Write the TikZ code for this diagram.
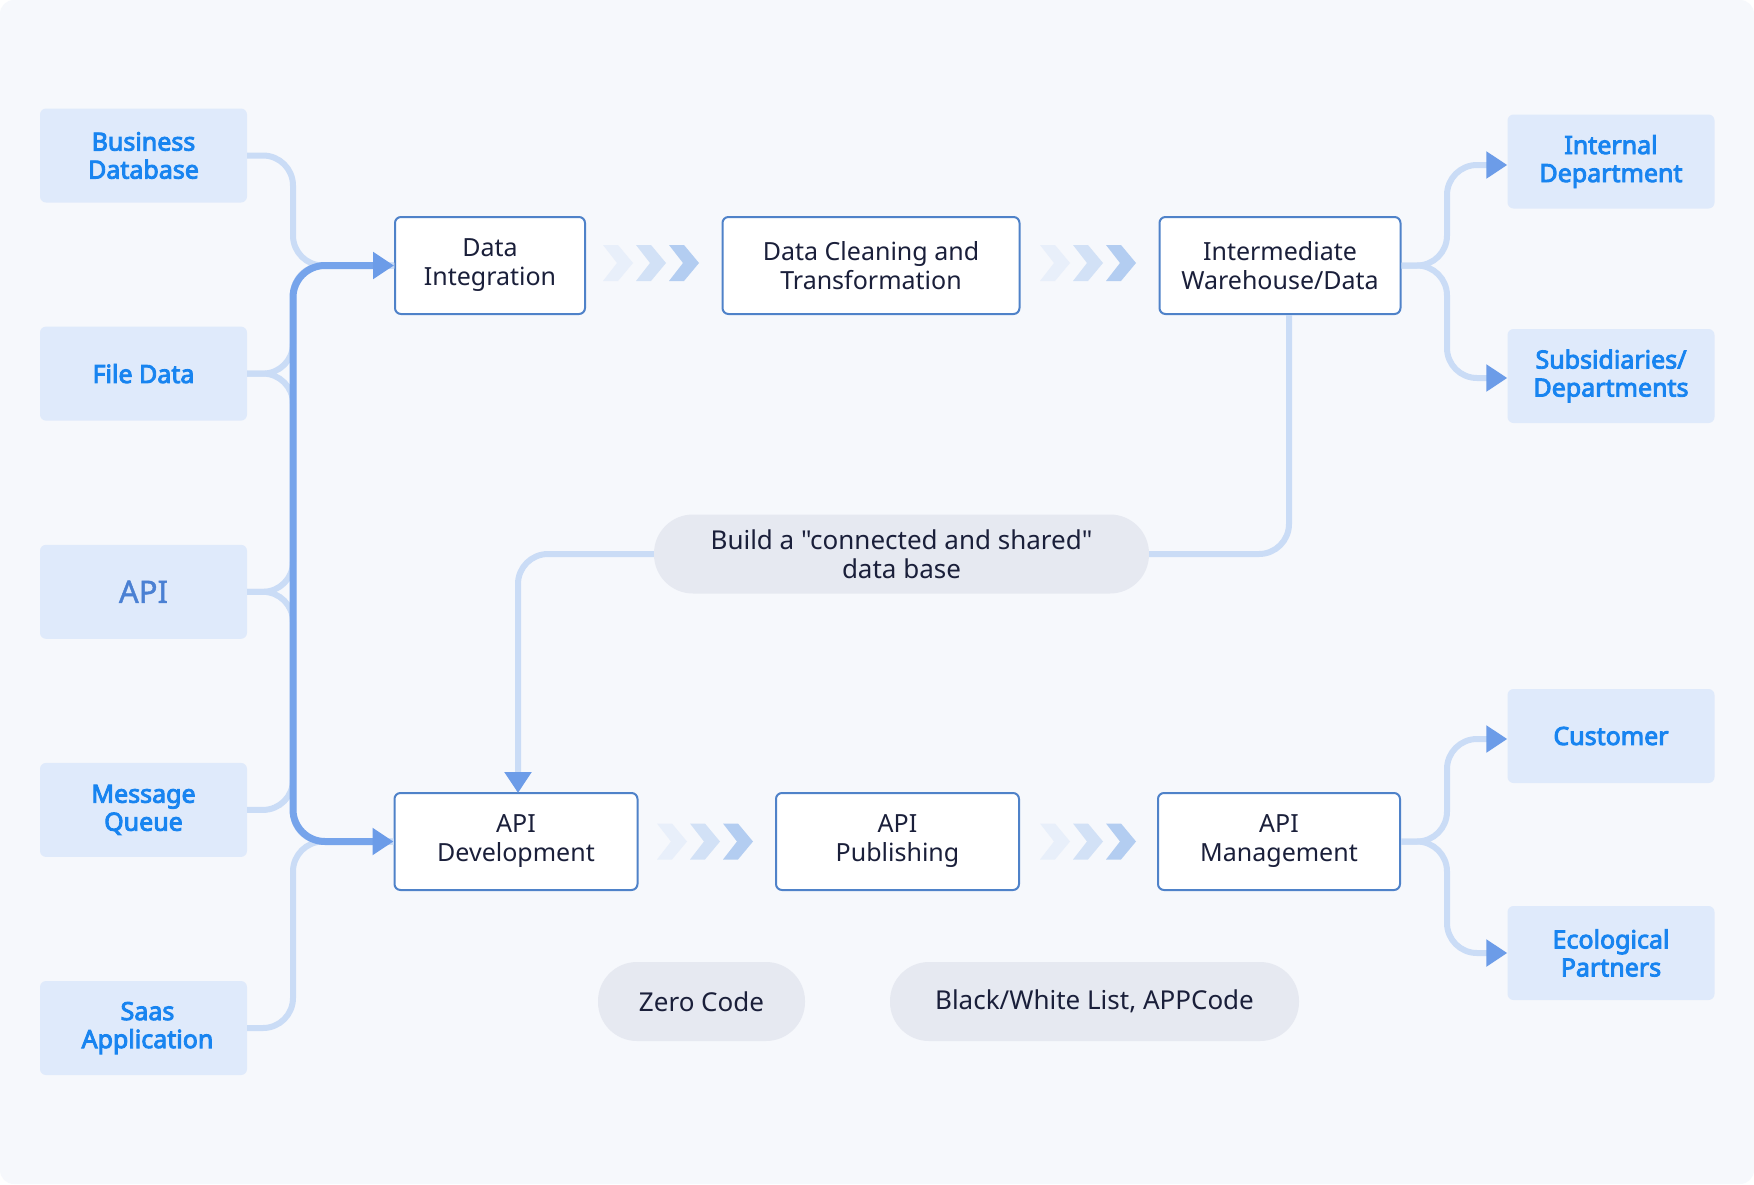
\documentclass[tikz,border=0pt]{standalone}
\usepackage{fontspec}
\setmainfont{Noto Sans}[Ligatures=TeXOff, AutoFakeBold=3.6]
\newfontfamily\apifont{Noto Sans}[FakeBold=1.4]
\usetikzlibrary{arrows.meta}
\definecolor{bgc}{HTML}{F6F8FC}
\definecolor{srcfill}{HTML}{DFEAFB}
\definecolor{srctext}{HTML}{1884F0}
\definecolor{apitext}{HTML}{4A80D3}
\definecolor{boxline}{HTML}{4F82C9}
\definecolor{boxtext}{HTML}{1A1F3A}
\definecolor{pillc}{HTML}{E6E9F1}
\definecolor{lightc}{HTML}{CADCF6}
\definecolor{darkc}{HTML}{76A4EB}
\definecolor{tipc}{HTML}{6C9CE8}
\definecolor{chevA}{HTML}{E8EFFA}
\definecolor{chevB}{HTML}{D2E1F6}
\definecolor{chevC}{HTML}{B3CDF1}
\tikzset{
  chevs/.pic={
    \fill[chevA] (0,-18) -- (15,-18) -- (30,0) -- (15,18) -- (0,18) -- (14,0) -- cycle;
    \fill[chevB] (33,-18) -- (48,-18) -- (63,0) -- (48,18) -- (33,18) -- (47,0) -- cycle;
    \fill[chevC] (66,-18) -- (81,-18) -- (96,0) -- (81,18) -- (66,18) -- (80,0) -- cycle;
  }
}
\begin{document}
\begin{tikzpicture}[x=1pt,y=-1pt,
  srcbox/.style={fill=srcfill, rounded corners=6pt, minimum width=207pt, minimum height=94pt,
    text=srctext, font=\bfseries\fontsize{25}{28}\selectfont, align=center, inner sep=0pt},
  procbox/.style={draw=boxline, line width=2pt, fill=white, rounded corners=6pt, minimum height=97pt,
    text=boxtext, font=\fontsize{25}{29}\selectfont, align=center, inner sep=0pt},
  pillbox/.style={fill=pillc, rounded corners=39pt, minimum height=79pt, text=boxtext,
    font=\fontsize{26}{29}\selectfont, align=center, inner sep=0pt},
  lightline/.style={draw=lightc, line width=6pt, rounded corners=30pt},
  darkline/.style={draw=darkc, line width=7pt, rounded corners=32pt},
  arrowend/.style={-{Triangle[length=21pt,width=26pt,color=tipc]}},
  arrowboth/.style={{Triangle[length=21pt,width=26pt,color=tipc]}-{Triangle[length=21pt,width=26pt,color=tipc]}},
]
% background
\fill[white] (0,0) rectangle (1754,1184);
\fill[bgc, rounded corners=14pt] (0,0) rectangle (1754,1184);

% source boxes
\node[srcbox] (bd) at (143.5,155.5) {Business\\Database};
\node[srcbox] (fd) at (143.5,373.6) {File Data};
\node[srcbox, text=apitext, font=\apifont\fontsize{31}{34}\selectfont] (api) at (143.5,591.8) {API};
\node[srcbox] (mq) at (143.5,809.9) {Message\\Queue};
\node[srcbox] (saas) at (143.5,1028) {\hspace*{8pt}Saas\\\hspace*{8pt}Application};

% process boxes
\node[procbox, minimum width=190pt] (di) at (490,265.5) {Data\\Integration};
\node[procbox, minimum width=297pt] (dct) at (871,265.5) {Data Cleaning and\\Transformation};
\node[procbox, minimum width=241pt] (iwd) at (1280,265.5) {Intermediate\\Warehouse/Data};
\node[procbox, minimum width=243pt] (apidev) at (516,841.5) {API\\Development};
\node[procbox, minimum width=243pt] (apipub) at (897.5,841.5) {API\\Publishing};
\node[procbox, minimum width=242pt] (apimgmt) at (1279,841.5) {API\\Management};

% right boxes
\node[srcbox] (ind) at (1611,161.5) {Internal\\Department};
\node[srcbox] (sub) at (1611,376) {Subsidiaries/\\Departments};
\node[srcbox] (cus) at (1611,736) {Customer};
\node[srcbox] (eco) at (1611,953) {Ecological\\Partners};

% pills
\node[pillbox, minimum width=495pt] (build) at (901.5,554) {Build a "connected and shared"\\data base};
\node[pillbox, minimum width=207pt] (zero) at (701.5,1001.5) {Zero Code};
\node[pillbox, minimum width=409pt] (bw) at (1094.5,1001.5) {Black/White List, APPCode};

% chevrons
\pic at (603,263) {chevs};
\pic at (1040,263) {chevs};
\pic at (657,841.5) {chevs};
\pic at (1040,841.5) {chevs};

% left light connectors
\draw[lightline] (bd.east) -- (293,155.5) -- (293,265.5) -- (di.west);
\draw[lightline] (fd.east) -- (293,373.6) -- (293,265.5) -- (di.west);
\draw[lightline] (fd.east) -- (293,373.6) -- (293,841.5) -- (apidev.west);
\draw[lightline] (api.east) -- (293,591.8) -- (293,265.5) -- (di.west);
\draw[lightline] (api.east) -- (293,591.8) -- (293,841.5) -- (apidev.west);
\draw[lightline] (mq.east) -- (293,809.9) -- (293,265.5) -- (di.west);
\draw[lightline] (saas.east) -- (293,1028) -- (293,841.5) -- (apidev.west);
\draw[darkline, arrowboth] (di.west) -- (293,265.5) -- (293,841.5) -- (apidev.west);

% warehouse to build to API dev
\draw[lightline] ([xshift=9pt]iwd.south) -- (1289,554) -- (build.east);
\draw[lightline, arrowend] (build.west) -- (518,554) -- (518,793);

% right connectors
\draw[lightline, arrowend] (iwd.east) -- (1447,265.5) -- (1447,165) -- (ind.west |- 0,165);
\draw[lightline, arrowend] (iwd.east) -- (1447,265.5) -- (1447,378) -- (sub.west |- 0,378);
\draw[lightline, arrowend] (apimgmt.east) -- (1447,841.5) -- (1447,739) -- (cus.west |- 0,739);
\draw[lightline, arrowend] (apimgmt.east) -- (1447,841.5) -- (1447,953) -- (eco.west);
\end{tikzpicture}
\end{document}
